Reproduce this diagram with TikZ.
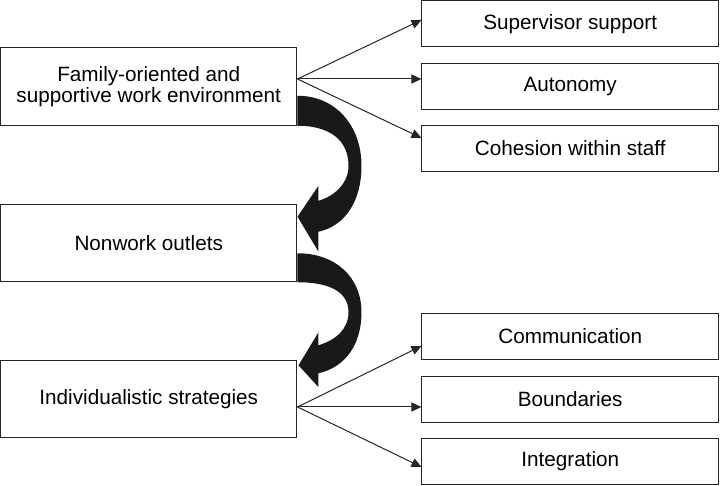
\documentclass[tikz,border=0pt]{standalone}
\usepackage{fontspec}
\setmainfont{Liberation Sans}
\usetikzlibrary{arrows.meta}
\begin{document}
\begin{tikzpicture}[x=.5pt, y=-.5pt,
		box/.style={draw=black!85, line width=.5pt, inner sep=0pt, align=center,
			font=\fontsize{10.35}{10.5}\selectfont},
		mainbox/.style={box, minimum width=148.25pt, minimum height=38.75pt},
		itembox/.style={box, minimum width=148.25pt, minimum height=23.25pt},
		link/.style={draw=black!85, line width=.5pt, -{Triangle[length=5pt, width=4.5pt]}},
		curl/.style={fill=black!90}]
		\useasboundingbox (0,0) rectangle (720,486);
		% left column
		\node[mainbox] (fam) at (148.75, 86.5) {Family-oriented and\\supportive work environment};
		\node[mainbox] (non) at (148.75, 243) {Nonwork outlets};
		\node[mainbox] (ind) at (148.75, 399) {Individualistic strategies};
		% right column
		\node[itembox] (sup) at (570.25, 23.75) {Supervisor support};
		\node[itembox] (aut) at (570.25, 86.5) {Autonomy};
		\node[itembox] (coh) at (570.25, 148.5) {Cohesion within staff};
		\node[itembox] (com) at (570.25, 336.5) {Communication};
		\node[itembox] (bou) at (570.25, 399.5) {Boundaries};
		\node[itembox] (int) at (570.25, 461.5) {Integration};
		% fans of arrows
		\coordinate (famout) at ([yshift=3.75pt]fam.east);
		\coordinate (indout) at ([yshift=-4pt]ind.east);
		\foreach \target/\shift in {sup/1.9pt, aut/3.75pt, coh/5.25pt}{
				\draw[link] (famout) -- ([yshift=\shift]\target.west);
			}
		\foreach \target/\shift in {com/-4.75pt, bou/-3.75pt, int/-2.75pt}{
				\draw[link] (indout) -- ([yshift=\shift]\target.west);
			}
		% curled arrows between the left boxes
		\begin{scope}[shift={(fam.south east)}]
			\fill[curl] (0,-30) .. controls (38,-30) and (64,0) .. (64,40)
				.. controls (64,75) and (48,100) .. (21,106) -- (21,126) -- (0,91)
				-- (21,60) -- (21,75) .. controls (38,70) and (51,57) .. (51,40)
				.. controls (51,15) and (33,0) .. (0,0) -- cycle;
		\end{scope}
		\begin{scope}[shift={(non.south east)}]
			\fill[curl] (0,-29) .. controls (38,-29) and (64,-5) .. (64,30)
				.. controls (64,62) and (48,85) .. (21,91) -- (21,105) -- (1,83)
				-- (21,50) -- (21,63) .. controls (38,58) and (51,47) .. (51,30)
				.. controls (51,10) and (33,0) .. (0,0) -- cycle;
		\end{scope}
	\end{tikzpicture}
\end{document}
